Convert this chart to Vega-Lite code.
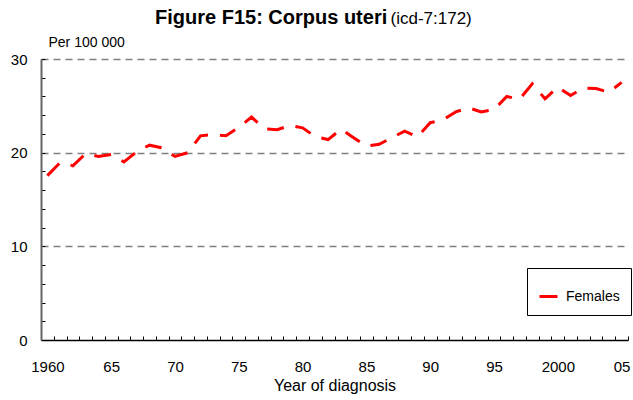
{
  "$schema": "https://vega.github.io/schema/vega-lite/v6.json",
  "width": 587,
  "height": 281,
  "autosize": {"type": "none"},
  "padding": {"left": 41, "top": 59, "right": 5, "bottom": 60},
  "config": {
    "font": "Liberation Sans",
    "view": {"stroke": null},
    "axis": {"labelColor": "#000", "titleColor": "#000", "labelFont": "Liberation Sans", "titleFont": "Liberation Sans", "titleFontWeight": "normal"}
  },
  "title": {
    "text": "Figure F15: Corpus uteri",
    "font": "Liberation Sans",
    "fontSize": 20,
    "fontWeight": "bold",
    "color": "#000",
    "anchor": "start",
    "frame": "group",
    "dx": 114,
    "offset": 0,
    "baseline": "alphabetic",
    "dy": 35
  },
  "data": {
    "values": [
      {"year": 1960, "rate": 17.55, "series": "Females"},
      {"year": 1961, "rate": 18.95, "series": "Females"},
      {"year": 1962, "rate": 18.6, "series": "Females"},
      {"year": 1963, "rate": 19.9, "series": "Females"},
      {"year": 1964, "rate": 19.6, "series": "Females"},
      {"year": 1965, "rate": 19.8, "series": "Females"},
      {"year": 1966, "rate": 19.0, "series": "Females"},
      {"year": 1967, "rate": 20.1, "series": "Females"},
      {"year": 1968, "rate": 20.8, "series": "Females"},
      {"year": 1969, "rate": 20.5, "series": "Females"},
      {"year": 1970, "rate": 19.6, "series": "Females"},
      {"year": 1971, "rate": 20.0, "series": "Females"},
      {"year": 1972, "rate": 21.8, "series": "Females"},
      {"year": 1973, "rate": 21.95, "series": "Females"},
      {"year": 1974, "rate": 21.8, "series": "Females"},
      {"year": 1975, "rate": 22.7, "series": "Females"},
      {"year": 1976, "rate": 23.8, "series": "Females"},
      {"year": 1977, "rate": 22.55, "series": "Females"},
      {"year": 1978, "rate": 22.45, "series": "Females"},
      {"year": 1979, "rate": 22.9, "series": "Females"},
      {"year": 1980, "rate": 22.65, "series": "Females"},
      {"year": 1981, "rate": 21.7, "series": "Females"},
      {"year": 1982, "rate": 21.4, "series": "Females"},
      {"year": 1983, "rate": 22.5, "series": "Females"},
      {"year": 1984, "rate": 21.6, "series": "Females"},
      {"year": 1985, "rate": 20.7, "series": "Females"},
      {"year": 1986, "rate": 20.9, "series": "Females"},
      {"year": 1987, "rate": 21.6, "series": "Females"},
      {"year": 1988, "rate": 22.3, "series": "Females"},
      {"year": 1989, "rate": 21.7, "series": "Females"},
      {"year": 1990, "rate": 23.2, "series": "Females"},
      {"year": 1991, "rate": 23.5, "series": "Females"},
      {"year": 1992, "rate": 24.35, "series": "Females"},
      {"year": 1993, "rate": 24.8, "series": "Females"},
      {"year": 1994, "rate": 24.35, "series": "Females"},
      {"year": 1995, "rate": 24.6, "series": "Females"},
      {"year": 1996, "rate": 26.0, "series": "Females"},
      {"year": 1997, "rate": 25.7, "series": "Females"},
      {"year": 1998, "rate": 27.35, "series": "Females"},
      {"year": 1999, "rate": 25.75, "series": "Females"},
      {"year": 2000, "rate": 27.0, "series": "Females"},
      {"year": 2001, "rate": 26.1, "series": "Females"},
      {"year": 2002, "rate": 26.9, "series": "Females"},
      {"year": 2003, "rate": 26.85, "series": "Females"},
      {"year": 2004, "rate": 26.45, "series": "Females"},
      {"year": 2005, "rate": 27.5, "series": "Females"}
    ]
  },
  "resolve": {"axis": {"x": "independent"}},
  "layer": [
    {
      "mark": {"type": "line", "strokeWidth": 3, "strokeDash": [17, 12], "strokeCap": "butt"},
      "encoding": {
        "x": {
          "field": "year",
          "type": "quantitative",
          "scale": {"domain": [1959.5, 2005.5], "nice": false, "zero": false},
          "axis": {
            "orient": "bottom",
            "values": [1959.5, 1960, 1960.5, 1961.5, 1962.5, 1963.5, 1964.5, 1965, 1965.5, 1966.5, 1967.5, 1968.5, 1969.5, 1970, 1970.5, 1971.5, 1972.5, 1973.5, 1974.5, 1975, 1975.5, 1976.5, 1977.5, 1978.5, 1979.5, 1980, 1980.5, 1981.5, 1982.5, 1983.5, 1984.5, 1985, 1985.5, 1986.5, 1987.5, 1988.5, 1989.5, 1990, 1990.5, 1991.5, 1992.5, 1993.5, 1994.5, 1995, 1995.5, 1996.5, 1997.5, 1998.5, 1999.5, 2000, 2000.5, 2001.5, 2002.5, 2003.5, 2004.5, 2005, 2005.5],
            "labelExpr": "datum.value % 5 === 0 ? ((datum.value === 1960 || datum.value === 2000) ? '' + datum.value : substring('' + datum.value, 2)) : ''",
            "labelOverlap": false,
            "labelFlush": false,
            "labelFontSize": 15,
            "labelPadding": 23,
            "tickSize": -4,
            "tickColor": "#000",
            "tickWidth": 1,
            "tickOpacity": {"condition": {"test": "datum.value % 1 !== 0", "value": 1}, "value": 0},
            "domainColor": "#000",
            "domainWidth": 1.5,
            "grid": false,
            "title": "Year of diagnosis",
            "titleFontSize": 16,
            "titlePadding": 3
          }
        },
        "y": {
          "field": "rate",
          "type": "quantitative",
          "scale": {"domain": [0, 30], "nice": false},
          "axis": {
            "values": [0, 2, 4, 6, 8, 10, 12, 14, 16, 18, 20, 22, 24, 26, 28, 30],
            "labelExpr": "datum.value % 10 === 0 ? datum.label : ''",
            "labelOverlap": false,
            "labelFlush": false,
            "labelFontSize": 15,
            "labelPadding": 18,
            "tickSize": -4,
            "tickColor": "#000",
            "tickWidth": 1,
            "domainColor": "#666",
            "domainWidth": 2,
            "grid": true,
            "gridColor": "#808080",
            "gridDash": [7, 5],
            "gridWidth": 1.5,
            "gridOpacity": {"condition": {"test": "datum.value % 10 === 0 && datum.value > 0", "value": 1}, "value": 0},
            "title": "Per 100 000",
            "titleFontSize": 14,
            "titleAngle": 0,
            "titleAlign": "left",
            "titleBaseline": "alphabetic",
            "titleX": 7,
            "titleY": -13
          }
        },
        "color": {
          "field": "series",
          "type": "nominal",
          "scale": {"range": ["#ff0000"]},
          "legend": {
            "title": null,
            "orient": "none",
            "legendX": 486,
            "legendY": 209,
            "padding": 11,
            "strokeColor": "#000",
            "fillColor": "#fff",
            "symbolType": "M-0.5625,0H0.5625",
            "symbolSize": 1024,
            "symbolStrokeWidth": 3,
            "symbolDash": [],
            "symbolOffset": -7,
            "labelOffset": 0,
            "labelFontSize": 14,
            "labelColor": "#000",
            "labelFont": "Liberation Sans"
          }
        }
      }
    },
    {
      "mark": {"type": "point", "opacity": 0},
      "encoding": {
        "x": {
          "field": "year",
          "type": "quantitative",
          "axis": {
            "orient": "top",
            "domain": false,
            "ticks": false,
            "labels": false,
            "grid": false,
            "title": "(icd-7:172)",
            "titleFontSize": 17,
            "titleAngle": 0,
            "titleAlign": "left",
            "titleBaseline": "alphabetic",
            "titleX": 349,
            "titleY": -36
          }
        }
      }
    }
  ]
}
